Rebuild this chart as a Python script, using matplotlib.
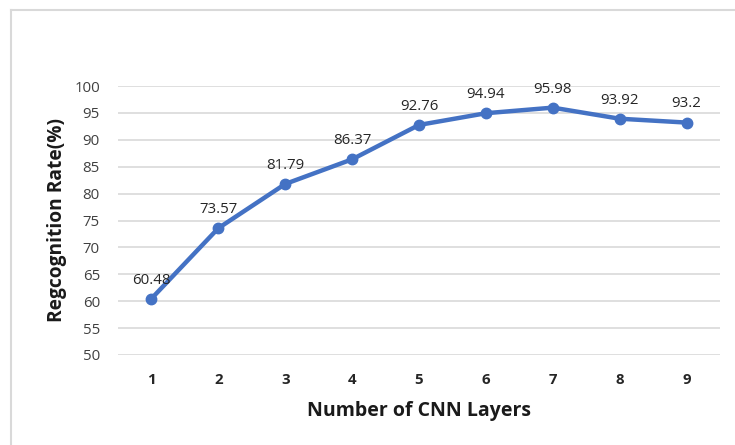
import matplotlib.pyplot as plt
from matplotlib.lines import Line2D

layers = [1, 2, 3, 4, 5, 6, 7, 8, 9]
rates = [60.48, 73.57, 81.79, 86.37, 92.76, 94.94, 95.98, 93.92, 93.2]
y_ticks = [50, 55, 60, 65, 70, 75, 80, 85, 90, 95, 100]

plt.rcParams['font.family'] = ['Open Sans', 'DejaVu Sans']

fig = plt.figure(figsize=(7.35, 4.45), dpi=100)
ax = fig.add_axes([118 / 735, 1 - 355 / 445, 602 / 735, 269 / 445])

line_color = '#4472C4'
ax.plot(layers, rates, color=line_color, linewidth=3.2, marker='o',
        markersize=7.5, solid_capstyle='round', zorder=3)

for x, y in zip(layers, rates):
    ax.annotate(f'{y:g}', (x, y), xytext=(0, 8), textcoords='offset points',
                ha='center', va='bottom', fontsize=10.8, color='#262626')

ax.set_xlim(0.5, 9.5)
ax.set_ylim(50, 100)
ax.set_yticks(y_ticks)
ax.set_xticks(layers)
ax.set_xticklabels([str(v) for v in layers], fontweight='bold')
ax.grid(axis='y', color='#D9D9D9', linewidth=1.2)
ax.set_axisbelow(True)
for s in ax.spines.values():
    s.set_visible(False)
ax.tick_params(axis='both', length=0, labelsize=10.8, labelcolor='#404040')
ax.tick_params(axis='x', pad=13, colors='#262626')
ax.tick_params(axis='y', pad=13)

ax.set_xlabel('Number of CNN Layers', fontsize=14, fontweight='bold',
              color='#1a1a1a', labelpad=10)
ax.set_ylabel('Regcognition Rate(%)', fontsize=13.8, fontweight='bold',
              color='#1a1a1a', labelpad=5)

# Outer chart-area border along the top and left edges
fig.add_artist(Line2D([11 / 735, 11 / 735], [0, 1 - 10 / 445],
                      color='#D9D9D9', linewidth=1.5, transform=fig.transFigure))
fig.add_artist(Line2D([11 / 735, 1], [1 - 10 / 445, 1 - 10 / 445],
                      color='#D9D9D9', linewidth=1.5, transform=fig.transFigure))

fig.savefig('out.png', dpi=100)
